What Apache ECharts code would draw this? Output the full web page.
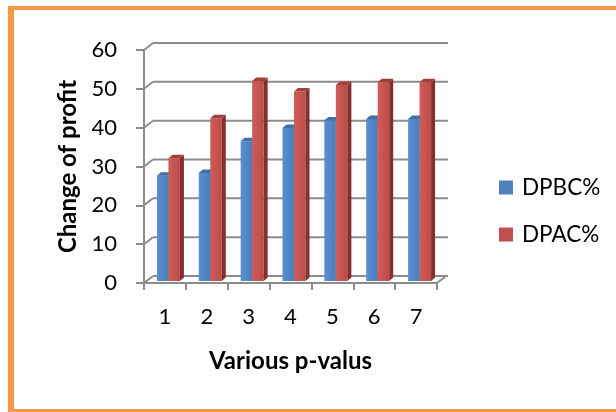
<!DOCTYPE html>
<html>
<head>
<meta charset="utf-8">
<script src="https://cdn.jsdelivr.net/npm/echarts@6/dist/echarts.min.js"></script>
<style>
  html, body { margin: 0; padding: 0; background: #ffffff; }
  #chart { width: 616px; height: 412px; }
</style>
</head>
<body>
<div id="chart"></div>
<script>
// Chart data
const categories = ['1', '2', '3', '4', '5', '6', '7'];
const dpbcValues = [27.1, 27.8, 36.0, 39.4, 41.3, 41.7, 41.7];
const dpacValues = [31.6, 41.9, 51.5, 48.8, 50.5, 51.2, 51.2];
const valueTicks = [0, 10, 20, 30, 40, 50, 60];
const seriesNames = ['DPBC%', 'DPAC%'];

// Pseudo-3D look: offset of the back wall and the bars' depth
const WALL_DX = 9, WALL_DY = -7;
const BAR_DX = 4, BAR_DY = -3.5;
const BAR_SHIFT_X = 3.5, BAR_SHIFT_Y = -2;
const LINE_COLOR = '#8c8c8c';
const FONT = 'Lato, "Open Sans", sans-serif';

const palettes = [
  { front: ['#5a8fd0', '#4a7dbb'], side: '#36629a', top: '#3f70aa', legend: '#4f81bd' },
  { front: ['#cf5c59', '#bd4c49'], side: '#86302e', top: '#a3403d', legend: '#c0504d' }
];

function barRenderer(seriesIdx) {
  const pal = palettes[seriesIdx];
  return function (params, api) {
    const ci = api.value(0);
    const v = api.value(1);
    const base = api.coord([ci, 0]);
    const top = api.coord([ci, v]);
    const band = api.size([1, 0])[0];
    const w = band * 0.275;
    const x0 = base[0] + BAR_SHIFT_X + (seriesIdx === 0 ? -w : 0);
    const yb = base[1] + BAR_SHIFT_Y;
    const yt = top[1] + BAR_SHIFT_Y;
    return {
      type: 'group',
      children: [
        {
          type: 'rect',
          shape: { x: x0, y: yt, width: w, height: yb - yt },
          style: {
            fill: new echarts.graphic.LinearGradient(0, 0, 1, 0, [
              { offset: 0, color: pal.front[0] },
              { offset: 1, color: pal.front[1] }
            ])
          }
        },
        {
          type: 'polygon',
          shape: { points: [[x0 + w, yt], [x0 + w + BAR_DX, yt + BAR_DY], [x0 + w + BAR_DX, yb + BAR_DY], [x0 + w, yb]] },
          style: { fill: pal.side }
        },
        {
          type: 'polygon',
          shape: { points: [[x0, yt], [x0 + BAR_DX, yt + BAR_DY], [x0 + w + BAR_DX, yt + BAR_DY], [x0 + w, yt]] },
          style: { fill: pal.top }
        }
      ]
    };
  };
}

// Back wall gridlines, their connectors to the front axis and the floor's right edge
function wallRenderer(params, api) {
  const cs = params.coordSys;
  const v = api.value(0);
  const y = api.coord([0, v])[1];
  const children = [
    {
      type: 'line',
      shape: { x1: cs.x, y1: y, x2: cs.x + WALL_DX, y2: y + WALL_DY },
      style: { stroke: LINE_COLOR, lineWidth: 2 }
    },
    {
      type: 'line',
      shape: { x1: cs.x + WALL_DX, y1: y + WALL_DY, x2: cs.x + cs.width + WALL_DX + 2, y2: y + WALL_DY },
      style: { stroke: LINE_COLOR, lineWidth: 2 }
    }
  ];
  if (v === valueTicks[0]) {
    children.push({
      type: 'line',
      shape: { x1: cs.x + cs.width, y1: y, x2: cs.x + cs.width + WALL_DX, y2: y + WALL_DY },
      style: { stroke: LINE_COLOR, lineWidth: 2 }
    });
  }
  return { type: 'group', children: children };
}

const chart = echarts.init(document.getElementById('chart'), null, { renderer: 'canvas' });

chart.setOption({
  animation: false,
  backgroundColor: '#ffffff',
  textStyle: { fontFamily: FONT },
  graphic: [
    { type: 'rect', shape: { x: 8, y: 6, width: 616, height: 4 }, style: { fill: '#f79646' } },
    { type: 'rect', shape: { x: 8, y: 6, width: 6, height: 406 }, style: { fill: '#f79646' } },
    { type: 'rect', shape: { x: 8, y: 409, width: 616, height: 3 }, style: { fill: '#f79646' } }
  ],
  legend: {
    orient: 'vertical',
    left: 499,
    top: 176,
    padding: 0,
    itemWidth: 14,
    itemHeight: 14,
    itemGap: 24,
    icon: 'rect',
    data: seriesNames,
    textStyle: { fontFamily: FONT, fontSize: 22.5, color: '#000000', padding: [0, 0, 0, 4] }
  },
  grid: { left: 144, right: 179, top: 50, bottom: 129, containLabel: false },
  xAxis: {
    type: 'category',
    data: categories,
    name: 'Various p-valus',
    nameLocation: 'middle',
    nameGap: 66,
    nameTextStyle: { fontFamily: FONT, fontSize: 24, fontWeight: 'bold', color: '#000000' },
    axisLine: { show: true, lineStyle: { color: LINE_COLOR, width: 2 } },
    axisTick: { show: true, length: 7, lineStyle: { color: LINE_COLOR, width: 2 } },
    axisLabel: { fontFamily: FONT, fontSize: 22, color: '#000000', margin: 23 },
    splitLine: { show: false }
  },
  yAxis: {
    type: 'value',
    min: 0,
    max: 60,
    interval: 10,
    name: 'Change of profit',
    nameLocation: 'middle',
    nameGap: 64,
    nameRotate: 90,
    nameTextStyle: { fontFamily: FONT, fontSize: 24, fontWeight: 'bold', color: '#000000' },
    axisLine: { show: true, lineStyle: { color: LINE_COLOR, width: 2 } },
    axisTick: { show: true, length: 8, lineStyle: { color: LINE_COLOR, width: 2 } },
    axisLabel: { fontFamily: FONT, fontSize: 22, color: '#000000', margin: 27 },
    splitLine: { show: false }
  },
  series: [
    {
      type: 'custom',
      name: 'walls',
      silent: true,
      z: 1,
      renderItem: wallRenderer,
      data: valueTicks.map(function (v) { return [v]; })
    },
    {
      type: 'custom',
      name: seriesNames[0],
      z: 3,
      itemStyle: { color: palettes[0].legend },
      renderItem: barRenderer(0),
      encode: { x: 0, y: 1 },
      data: dpbcValues.map(function (v, i) { return [i, v]; })
    },
    {
      type: 'custom',
      name: seriesNames[1],
      z: 4,
      itemStyle: { color: palettes[1].legend },
      renderItem: barRenderer(1),
      encode: { x: 0, y: 1 },
      data: dpacValues.map(function (v, i) { return [i, v]; })
    }
  ]
});
</script>
</body>
</html>
